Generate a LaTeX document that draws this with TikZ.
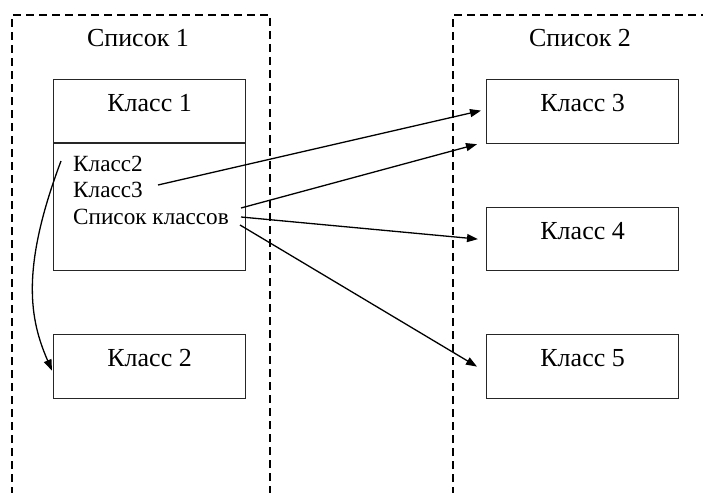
\documentclass[tikz,border=0pt]{standalone}
\usepackage{fontspec}
\setmainfont{Liberation Serif}
\usetikzlibrary{arrows.meta}

\begin{document}
\begin{tikzpicture}[x=1pt,y=-1pt,
  container/.style={line width=1.5pt,dash pattern=on 8pt off 5pt},
  classbox/.style={draw=black!85,line width=1.2pt,rectangle,anchor=north west,
    minimum width=192pt,minimum height=64pt,inner sep=0pt},
  lbl/.style={inner sep=0pt,anchor=base,font=\fontsize{26}{30}\selectfont},
  field/.style={inner sep=0pt,anchor=base west,font=\fontsize{23.2}{27}\selectfont},
  link/.style={line width=1.3pt,-{Triangle[length=11pt,width=8pt]}}
]
\useasboundingbox (0,0) rectangle (703,492);

% two dashed list containers, open at the bottom
\draw[container] (12,495) -- (12,15) -- (270,15) -- (270,495);
\draw[container] (453,495) -- (453,15) -- (706,15);
\node[lbl] (list1) at (138,47) {Список 1};
\node[lbl] (list2) at (580,47) {Список 2};

% class 1 with its field compartment
\node[classbox,minimum height=191pt] (c1) at (53,79) {};
\draw[draw=black!85,line width=1.2pt] ([yshift=-64pt]c1.north west) -- ([yshift=-64pt]c1.north east);
\node[lbl] (t1) at ([yshift=-32pt]c1.north) {Класс 1};
\node[field] (f1) at (73,171) {Класс2};
\node[field] (f2) at (73,197) {Класс3};
\node[field] (f3) at (73,224) {Список классов};

% the other classes
\node[classbox] (c2) at (53,334) {};
\node[lbl] (t2) at ([yshift=-32pt]c2.north) {Класс 2};
\node[classbox] (c3) at (486,79) {};
\node[lbl] (t3) at ([yshift=-32pt]c3.north) {Класс 3};
\node[classbox,minimum height=63pt] (c4) at (486,207) {};
\node[lbl] (t4) at ([yshift=-32pt]c4.north) {Класс 4};
\node[classbox] (c5) at (486,334) {};
\node[lbl] (t5) at ([yshift=-32pt]c5.north) {Класс 5};

% reference points on the fields
\coordinate (k2ref) at (61,161);
\coordinate (k3ref) at (158,185);
\coordinate (lsta) at (241,208);
\coordinate (lstb) at (241,217);
\coordinate (lstc) at (240,225);

% references
\draw[link] (k2ref) .. controls (20,270) and (30,320) .. ([xshift=-1pt,yshift=-4pt]c2.west);
\draw[link] (k3ref) -- ([xshift=-5pt,yshift=1pt]c3.west);
\draw[link] (lsta) -- ([xshift=-9pt]c3.south west);
\draw[link] (lstb) -- ([xshift=-8pt]c4.west);
\draw[link] (lstc) -- ([xshift=-9pt]c5.west);
\end{tikzpicture}
\end{document}
